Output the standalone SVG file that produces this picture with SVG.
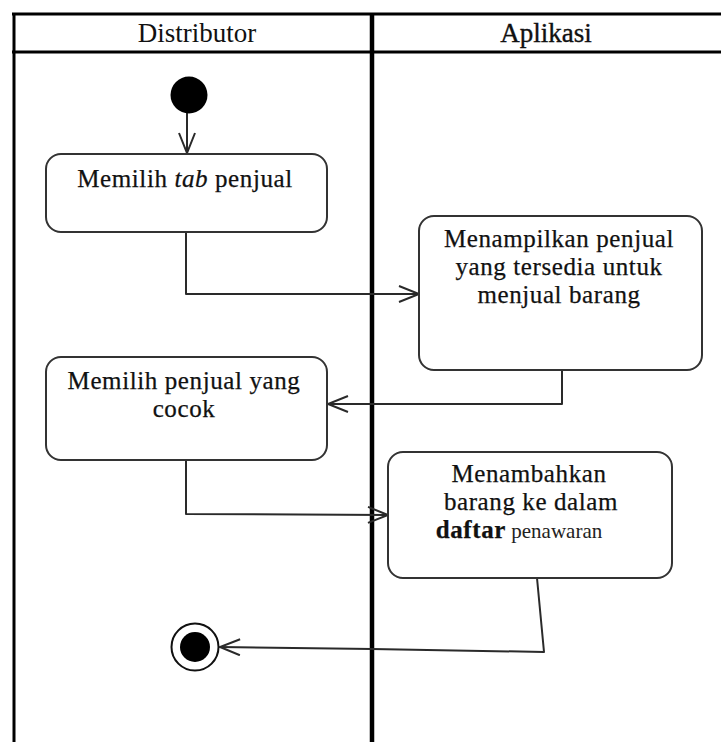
<svg xmlns="http://www.w3.org/2000/svg" width="721" height="742" viewBox="0 0 721 742">
  <style>
    .lane { stroke: #000; fill: none; }
    .act { fill: #fff; stroke: #333; stroke-width: 2; }
    .txt { font-family: "Liberation Serif", "Times New Roman", serif; font-size: 25px; letter-spacing: 0.6px; fill: #111; stroke: #111; stroke-width: 0.25; text-anchor: middle; }
    .hdr { font-family: "Liberation Serif", "Times New Roman", serif; font-size: 27px; fill: #111; text-anchor: middle; }
    .flow { fill: none; stroke: #2a2a2a; stroke-width: 2; stroke-linejoin: round; }
  </style>
  <defs>
    <marker id="open" markerUnits="userSpaceOnUse" markerWidth="24" markerHeight="20" refX="21" refY="9" orient="auto">
      <path d="M1,1 L21,9 L1,17" fill="none" stroke="#2a2a2a" stroke-width="2"/>
    </marker>
  </defs>
  <rect width="721" height="742" fill="#fff"/>

  <!-- swimlane frame -->
  <g id="lanes">
    <line class="lane" x1="12" y1="14" x2="721" y2="14" stroke-width="3"/>
    <line class="lane" x1="12" y1="52" x2="721" y2="52" stroke-width="3"/>
    <line class="lane" x1="14" y1="13" x2="14" y2="742" stroke-width="3"/>
    <line class="lane" x1="372" y1="13" x2="372" y2="742" stroke-width="4.5"/>
    <text class="hdr" x="197" y="42">Distributor</text>
    <text class="hdr" x="546" y="42" stroke="#111" stroke-width="0.35">Aplikasi</text>
  </g>

  <!-- connectors -->
  <g id="connectors">
    <line class="flow" x1="187" y1="113" x2="187" y2="153" marker-end="url(#open)"/>
    <polyline class="flow" points="186,232 186,294 419,294" marker-end="url(#open)"/>
    <polyline class="flow" points="562,370 562,404 328,404" marker-end="url(#open)"/>
    <polyline class="flow" points="186,460 186,514 388,515" marker-end="url(#open)"/>
    <polyline class="flow" points="537,578 544,652 372,649 220,647" marker-end="url(#open)"/>
  </g>

  <g id="start">
    <circle cx="189" cy="95" r="18.5" fill="#000"/>
  </g>

  <g id="pilih-tab">
    <rect class="act" x="46" y="154" width="281" height="78" rx="15"/>
    <text class="txt" x="185" y="187">Memilih <tspan font-style="italic">tab</tspan> penjual</text>
  </g>

  <g id="tampil-penjual">
    <rect class="act" x="419" y="216" width="283" height="154" rx="15"/>
    <text class="txt"><tspan x="559" y="247">Menampilkan penjual</tspan><tspan x="559" y="275">yang tersedia untuk</tspan><tspan x="559" y="303">menjual barang</tspan></text>
  </g>

  <g id="pilih-penjual">
    <rect class="act" x="46" y="357" width="281" height="103" rx="15"/>
    <text class="txt"><tspan x="184" y="389">Memilih penjual yang</tspan><tspan x="184" y="417">cocok</tspan></text>
  </g>

  <g id="tambah-barang">
    <rect class="act" x="388" y="452" width="284" height="126" rx="15"/>
    <text class="txt"><tspan x="529" y="482">Menambahkan</tspan><tspan x="531" y="510">barang ke dalam</tspan><tspan x="519" y="538" font-weight="bold">daftar</tspan><tspan font-size="21" stroke-width="0" letter-spacing="0" fill="#222"> penawaran</tspan></text>
  </g>

  <g id="end">
    <circle cx="195" cy="647" r="23.5" fill="#fff" stroke="#111" stroke-width="2"/>
    <circle cx="195" cy="647" r="15" fill="#000"/>
  </g>
</svg>
